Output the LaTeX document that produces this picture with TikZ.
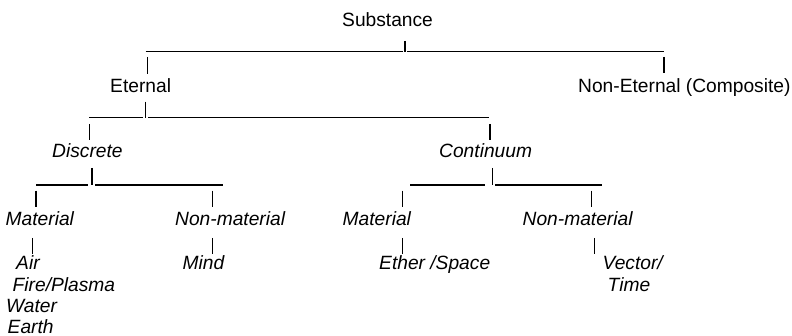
\documentclass[tikz,border=0pt]{standalone}
\usepackage{fontspec}
\setmainfont{Liberation Sans}
\newcommand{\lbfont}{\fontsize{19.2}{22}\selectfont}
\tikzset{
  lbl/.style={anchor=base west, inner sep=0pt, font=\lbfont},
  itl/.style={lbl, font=\lbfont\itshape},
  tick/.style={line width=1.2pt},
  rule/.style={line width=1.4pt}
}
\begin{document}
\begin{tikzpicture}[x=1pt,y=-1pt]
\useasboundingbox (0,0) rectangle (792,336);

% ---- labels ----
\node[lbl] (substance) at (342,26.5) {Substance};
\node[lbl] (eternal)   at (110,93)   {Eternal};
\node[lbl] (noneternal) at (578,93)  {Non-Eternal (Composite)};
\node[itl] (discrete)  at (52,158)   {Discrete};
\node[itl] (continuum) at (439,158)  {Continuum};
\node[itl] (dmat)      at (5.5,225.5) {Material};
\node[itl] (dnonmat)   at (175,225.5) {Non-material};
\node[itl] (cmat)      at (342.5,225.5) {Material};
\node[itl] (cnonmat)   at (522.5,225.5) {Non-material};
\node[itl] (air)       at (16,270)   {Air};
\node[itl] (fire)      at (12.5,291.5) {Fire/Plasma};
\node[itl] (water)     at (6,313)    {Water};
\node[itl] (earth)     at (7.5,333.5) {Earth};
\node[itl] (mind)      at (182.5,270) {Mind};
\node[itl] (ether)     at (379,270)  {Ether /Space};
\node[itl] (vector)    at (602.5,270) {Vector/};
\node[itl] (time)      at (607.5,291.5) {Time};

% ---- level 1: Substance ----
\coordinate (s-bar-top) at (405,41);
\coordinate (s-bar-bot) at (405,52);
\coordinate (s-left)    at (145.7,51.7);
\coordinate (s-lmid)    at (403,51.7);
\coordinate (s-rmid)    at (407.3,51.7);
\coordinate (s-right)   at (663.5,51.7);
\draw[tick] (s-bar-top) -- (s-bar-bot);
\draw[rule] (s-left) -- (s-lmid);
\draw[rule] (s-rmid) -- (s-right);
\coordinate (e-top) at (147.7,57);
\coordinate (e-bot) at (147.7,74);
\draw[tick] (e-top) -- (e-bot);
\coordinate (n-top) at (664,57);
\coordinate (n-bot) at (664,73);
\draw[tick] (n-top) -- (n-bot);

% ---- level 2: Eternal ----
\coordinate (et-bar-top) at (145.7,101.7);
\coordinate (et-bar-bot) at (145.7,118.3);
\coordinate (et-left)    at (89.3,117.3);
\coordinate (et-lmid)    at (143.3,117.3);
\coordinate (et-rmid)    at (148.3,117.3);
\coordinate (et-right)   at (489.3,117.3);
\draw[tick] (et-bar-top) -- (et-bar-bot);
\draw[rule] (et-left) -- (et-lmid);
\draw[rule] (et-rmid) -- (et-right);
\coordinate (d-top) at (89.3,124);
\coordinate (d-bot) at (89.3,140);
\draw[tick] (d-top) -- (d-bot);
\coordinate (c-top) at (490,124);
\coordinate (c-bot) at (490,140);
\draw[tick] (c-top) -- (c-bot);

% ---- level 3: Discrete ----
\coordinate (di-bar-top) at (92,168);
\coordinate (di-bar-bot) at (92,185.5);
\coordinate (di-left)    at (36,185);
\coordinate (di-lmid)    at (88.3,185);
\coordinate (di-rmid)    at (95,185);
\coordinate (di-right)   at (222.7,185);
\draw[tick] (di-bar-top) -- (di-bar-bot);
\draw[rule] (di-left) -- (di-lmid);
\draw[rule] (di-rmid) -- (di-right);
\coordinate (dm-top) at (36,190.7);
\coordinate (dm-bot) at (36,206.7);
\draw[tick] (dm-top) -- (dm-bot);
\coordinate (dn-top) at (212.3,190.7);
\coordinate (dn-bot) at (212.3,206.7);
\draw[tick] (dn-top) -- (dn-bot);

% ---- level 3: Continuum ----
\coordinate (co-bar-top) at (492.7,168);
\coordinate (co-bar-bot) at (492.7,185.5);
\coordinate (co-left)    at (410,185);
\coordinate (co-lmid)    at (485,185);
\coordinate (co-rmid)    at (495,185);
\coordinate (co-right)   at (602.3,185);
\draw[tick] (co-bar-top) -- (co-bar-bot);
\draw[rule] (co-left) -- (co-lmid);
\draw[rule] (co-rmid) -- (co-right);
\coordinate (cm-top) at (402.3,190.7);
\coordinate (cm-bot) at (402.3,206.7);
\draw[tick] (cm-top) -- (cm-bot);
\coordinate (cn-top) at (591.7,190.7);
\coordinate (cn-bot) at (591.7,206.7);
\draw[tick] (cn-top) -- (cn-bot);

% ---- level 4 ticks ----
\coordinate (dm2-top) at (32.7,238);
\coordinate (dm2-bot) at (32.7,254.3);
\draw[tick] (dm2-top) -- (dm2-bot);
\coordinate (dn2-top) at (212.3,238);
\coordinate (dn2-bot) at (212.3,254.3);
\draw[tick] (dn2-top) -- (dn2-bot);
\coordinate (cm2-top) at (402.3,238);
\coordinate (cm2-bot) at (402.3,254.3);
\draw[tick] (cm2-top) -- (cm2-bot);
\coordinate (cn2-top) at (594.3,238);
\coordinate (cn2-bot) at (594.3,254.3);
\draw[tick] (cn2-top) -- (cn2-bot);
\end{tikzpicture}
\end{document}
